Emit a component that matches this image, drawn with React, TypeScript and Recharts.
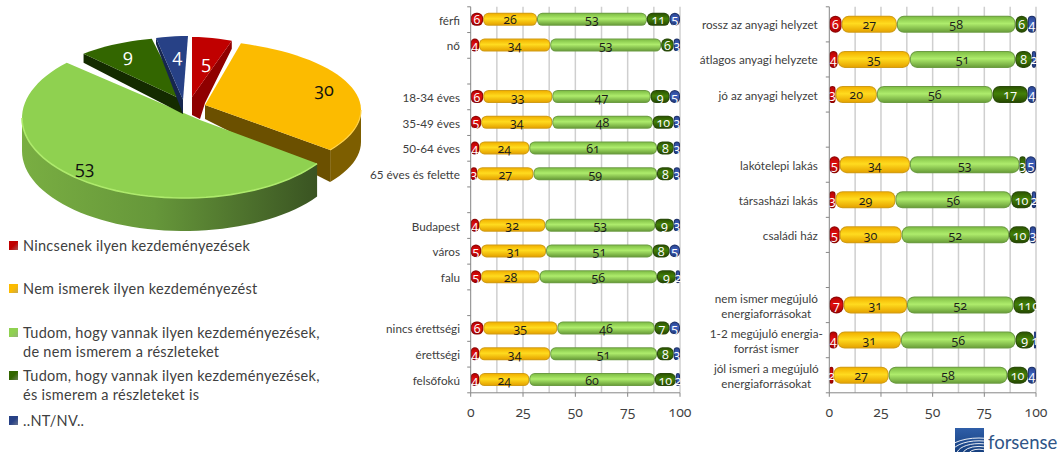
import React from "react";
import { PieChart, Pie, BarChart, Bar, XAxis, YAxis, CartesianGrid, LabelList, Legend } from "recharts";

const seriesNames = [
  "Nincsenek ilyen kezdeményezések",
  "Nem ismerek ilyen kezdeményezést",
  "Tudom, hogy vannak ilyen kezdeményezések, de nem ismerem a részleteket",
  "Tudom, hogy vannak ilyen kezdeményezések, és ismerem a részleteket is",
  "..NT/NV..",
];
const pieValues = [5, 30, 53, 9, 4];
const pieColors = ["#c00000", "#fcbb00", "#8fd150", "#336600", "#274186"];

const leftCategories = ["férfi", "nő", "", "18-34 éves", "35-49 éves", "50-64 éves", "65 éves és felette", "", "Budapest", "város", "falu", "", "nincs érettségi", "érettségi", "felsőfokú"];
const leftRed = [6, 4, null, 6, 5, 4, 3, null, 4, 5, 5, null, 6, 4, 4];
const leftYellow = [26, 34, null, 33, 34, 24, 27, null, 32, 31, 28, null, 35, 34, 24];
const leftLight = [53, 53, null, 47, 48, 61, 59, null, 53, 51, 56, null, 46, 51, 60];
const leftDark = [11, 6, null, 9, 10, 8, 8, null, 9, 8, 9, null, 7, 8, 10];
const leftBlue = [5, 3, null, 5, 3, 3, 3, null, 3, 5, 2, null, 5, 3, 2];

const rightCategories = ["rossz az anyagi helyzet", "átlagos anyagi helyzete", "jó az anyagi helyzet", "", "lakótelepi lakás", "társasházi lakás", "családi ház", "", "nem ismer megújuló|energiaforrásokat", "1-2 megújuló energia-|forrást ismer", "jól ismeri a megújuló|energiaforrásokat"];
const rightRed = [6, 4, 3, null, 5, 3, 5, null, 7, 4, 2];
const rightYellow = [27, 35, 20, null, 34, 29, 30, null, 31, 31, 27];
const rightLight = [58, 51, 56, null, 53, 56, 52, null, 52, 56, 58];
const rightDark = [6, 8, 17, null, 3, 10, 10, null, 11, 9, 10];
const rightBlue = [4, 2, 4, null, 5, 2, 3, null, 0, 1, 4];

const axisTicks = [0, 0.25, 0.5, 0.75, 1];
const gridTicks = [0.125, 0.25, 0.375, 0.5, 0.625, 0.75, 0.875, 1];

const TEXT_FONT = "Lato, 'Open Sans', sans-serif";
const DIGIT_FONT = "'Open Sans', Lato, sans-serif";
const TEXT_COLOR = "#404040";

const sliceGeom = [
  { ox: 192, oy: 117, rx: 130, ry: 80, ax: 192, ay: 97, edge: "end", cd: 8, ad: 18, tail: [[8, 22], [13, 6]], wall: "#8f0000", side: "#8f0000", t: 8, lf: 0.7, ldx: 0, ldy: 0, text: "#ffffff" },
  { ox: 188, oy: 110, rx: 173, ry: 70, ax: 205, ay: 105, edge: "end", cd: 32, ad: 14, tail: [], wall: "#6b5000", side: "#7d5e00", t: 32, lf: 0.83, ldx: 0, ldy: -2, text: "#111111" },
  { ox: 184, oy: 118, rx: 162, ry: 80, ax: 200, ay: 120, edge: "none", cd: 0, ad: 0, tail: [], wall: "#3b5423", side: "url(#greenWall)", t: 33, lf: 0.88, ldx: -9, ldy: -6, text: "#111111" },
  { ox: 187, oy: 91, rx: 143, ry: 54, ax: 183, ay: 100, edge: "start", cd: 9, ad: 14, tail: [], wall: "#142b00", side: "#142b00", t: 9, lf: 0.75, ldx: -5, ldy: -1, text: "#ffffff" },
  { ox: 188, oy: 100, rx: 130, ry: 64, ax: 183, ay: 100, edge: "start", cd: 6, ad: 14, tail: [], wall: "#16264f", side: "#16264f", t: 6, lf: 0.65, ldx: 0, ldy: -4, text: "#ffffff" },
];

function arcPoints(g: any, from: number, to: number, shift = 0) {
  const pts: [number, number][] = [];
  const n = Math.max(2, Math.ceil(Math.abs(to - from) / 3));
  for (let i = 0; i <= n; i++) {
    const th = ((from + ((to - from) * i) / n) * Math.PI) / 180;
    pts.push([g.ox + g.rx * Math.sin(th), g.oy - g.ry * Math.cos(th) + shift]);
  }
  return pts;
}
const toPath = (pts: [number, number][], close = true) =>
  pts.map((p, i) => `${i ? "L" : "M"}${p[0].toFixed(2)} ${p[1].toFixed(2)}`).join(" ") + (close ? " Z" : "");

function PieSlice(props: any) {
  const idx = seriesNames.indexOf(props.name);
  const g = sliceGeom[idx < 0 ? 0 : idx];
  const from = 90 - props.startAngle;
  const to = 90 - props.endAngle;
  const arc = arcPoints(g, from, to);
  const corner = g.edge === "start" ? arc[0] : arc[arc.length - 1];
  const wallFrom = Math.max(from, 90);
  const wallTo = Math.min(to, 270);
  const tail = (g.tail as number[][]).map((p) => [g.ax + p[0], g.ay + p[1]] as [number, number]);
  return (
    <g>
      {wallTo > wallFrom && (
        <path
          d={toPath([...arcPoints(g, wallFrom, wallTo), ...arcPoints(g, wallFrom, wallTo, g.t).reverse()])}
          fill={g.side}
        />
      )}
      {g.edge !== "none" && (
        <path
          d={toPath([corner, [g.ax, g.ay], [g.ax, g.ay + g.ad], ...tail, [corner[0], corner[1] + g.cd]])}
          fill={g.wall}
        />
      )}
      <path d={toPath([[g.ax, g.ay], ...arc])} fill={props.fill} />
      {wallTo > wallFrom && idx === 2 && (
        <path d={toPath(arcPoints(g, wallFrom, wallTo), false)} fill="none" stroke="#aeea6c" strokeWidth={1.6} />
      )}
      {wallTo > wallFrom && idx === 1 && (
        <path d={toPath(arcPoints(g, wallFrom, wallTo), false)} fill="none" stroke="#ffd24a" strokeWidth={1.2} />
      )}
    </g>
  );
}

function PieLabel(props: any) {
  const g = sliceGeom[props.index];
  const th = ((90 - props.midAngle) * Math.PI) / 180;
  const x = g.ox + g.rx * g.lf * Math.sin(th) + g.ldx;
  const y = g.oy - g.ry * g.lf * Math.cos(th) + g.ldy;
  return (
    <text x={x} y={y} textAnchor="middle" dominantBaseline="central" fill={g.text}
      style={{ fontFamily: DIGIT_FONT, fontSize: 18, fontFeatureSettings: '"onum"' }}>
      {props.value}
    </text>
  );
}

const legendTops = [236, 279, 323, 366, 411];

function PieLegend({ payload }: any) {
  return (
    <div style={{ position: "relative", width: 365, height: 220, fontFamily: TEXT_FONT, fontSize: 14.5, letterSpacing: 0.28, lineHeight: "19px", color: TEXT_COLOR }}>
      {(payload || []).map((e: any, i: number) => (
        <div key={i} style={{ position: "absolute", left: 23, top: legendTops[i] - 232, width: 305 }}>
          <span style={{ position: "absolute", left: -14, top: 5, width: 9, height: 9, background: `linear-gradient(135deg, ${e.color}, ${e.color} 50%, #00000066 140%)` }} />
          {e.value}
        </div>
      ))}
    </div>
  );
}

const pieData = seriesNames.map((name, i) => ({ name, value: pieValues[i], fill: pieColors[i] }));

const barStyles: Record<string, string[]> = {
  red: ["#8a0606", "#b80000", "#e01010", "#a80000"],
  yellow: ["#cf9c18", "#f2b200", "#ffdb1f", "#e6a400"],
  light: ["#6d9c44", "#80bf46", "#aeec6c", "#6ba03a"],
  dark: ["#2a4a0c", "#2c5500", "#438008", "#264a00"],
  blue: ["#1f3268", "#2a4592", "#4062bd", "#223a7c"],
};

function GradStops({ c }: { c: string[] }) {
  return (
    <>
      <stop offset="0%" stopColor={c[1]} />
      <stop offset="45%" stopColor={c[2]} />
      <stop offset="100%" stopColor={c[3]} />
    </>
  );
}

function BarGradients() {
  return (
    <defs>
      {Object.keys(barStyles).map((k) => (
        <linearGradient key={k} id={`bar-${k}`} x1="0" y1="0" x2="0" y2="1">
          <GradStops c={barStyles[k]} />
        </linearGradient>
      ))}
    </defs>
  );
}

function pill(kind: string) {
  return (p: any) => {
    const { x, y, width, height } = p;
    if (!(width > 0) || !(height > 0)) return <g />;
    const r = Math.min(height * 0.42, width / 2);
    const inset = Math.min(1, width / 4);
    return (
      <g>
        <rect x={x} y={y} width={width} height={height} rx={r} ry={r} fill={barStyles[kind][0]} />
        <rect x={x + inset} y={y + 1} width={width - inset * 2} height={height - 2} rx={Math.max(0, r - 1)} ry={Math.max(0, r - 1)} fill={`url(#bar-${kind})`} />
      </g>
    );
  };
}

function CategoryTick({ x, y, payload, index, band, labelGap, multiOffset, tickLen }: any) {
  const raw = String(payload.value ?? "");
  const lines = raw ? raw.split("|") : [];
  const multi = lines.length > 1;
  return (
    <g>
      {index === 0 && <line x1={x - tickLen} x2={x} y1={y - band / 2} y2={y - band / 2} stroke="#868686" />}
      <line x1={x - tickLen} x2={x} y1={y + band / 2} y2={y + band / 2} stroke="#868686" />
      {lines.map((l: string, i: number) => (
        <text key={i} x={multi ? x - multiOffset : x - labelGap} y={y + (i - (lines.length - 1) / 2) * 15} textAnchor={multi ? "middle" : "end"}
          dominantBaseline="central" fill={TEXT_COLOR} style={{ fontFamily: TEXT_FONT, fontSize: 11.7 }}>
          {l}
        </text>
      ))}
    </g>
  );
}

function makeRows(cats: string[], a: any[], b: any[], c: any[], d: any[], e: any[]) {
  return cats.map((name, i) => ({ name, red: a[i], yellow: b[i], light: c[i], dark: d[i], blue: e[i] }));
}

function valueLabel(color: string) {
  return (p: any) => {
    if (p.value === null || p.value === undefined) return <g />;
    return (
      <text x={p.x + p.width / 2} y={p.y + p.height / 2 + 0.5} textAnchor="middle" dominantBaseline="central" fill={color}
        style={{ fontFamily: DIGIT_FONT, fontSize: 12.5, fontFeatureSettings: '"onum"' }}>
        {p.value}
      </text>
    );
  };
}

const seriesKeys = [
  { key: "red", text: "#ffffff" },
  { key: "yellow", text: "#1a1a1a" },
  { key: "light", text: "#1a1a1a" },
  { key: "dark", text: "#ffffff" },
  { key: "blue", text: "#ffffff" },
];

function StackedChart({ rows, left, width, yWidth, right, barSize, multiOffset, labelGap }: any) {
  const plotH = 386;
  const band = plotH / rows.length;
  return (
    <div style={{ position: "absolute", left, top: 0 }}>
      <BarChart width={width} height={432} data={rows} layout="vertical" stackOffset="expand" barSize={barSize}
        margin={{ top: 6.8, right, bottom: 0, left: 0 }}>
        <BarGradients />
        <CartesianGrid horizontal={false} vertical stroke="#cfcfcf" strokeWidth={1.5} verticalValues={gridTicks} />
        <XAxis type="number" domain={[0, 1]} ticks={axisTicks} height={39.2} interval={0}
          tickFormatter={(v: number) => String(Math.round(v * 100))}
          axisLine={{ stroke: "#868686" }} tickLine={{ stroke: "#868686" }} tickSize={4} tickMargin={10}
          tick={{ fill: TEXT_COLOR, fontFamily: DIGIT_FONT, fontSize: 14, style: { fontFeatureSettings: '"onum"' } }} />
        <YAxis type="category" dataKey="name" width={yWidth} interval={0} axisLine={{ stroke: "#868686" }} tickLine={false} tickSize={0} tickMargin={0}
          tick={(p: any) => <CategoryTick {...p} band={band} labelGap={labelGap} tickLen={3.5} multiOffset={multiOffset} />} />
        {seriesKeys.map((s) => (
          <Bar key={s.key} dataKey={s.key} stackId="all" isAnimationActive={false} shape={pill(s.key)}>
            <LabelList dataKey={s.key} content={valueLabel(s.text)} />
          </Bar>
        ))}
      </BarChart>
    </div>
  );
}

function Logo() {
  return (
    <div style={{ position: "absolute", left: 955, top: 428, width: 108, height: 24 }}>
      <svg width={29} height={24} style={{ position: "absolute", left: 0, top: 0 }}>
        <defs>
          <linearGradient id="logoGrad" x1="0" y1="0" x2="0" y2="1">
            <stop offset="0%" stopColor="#2f5ea8" />
            <stop offset="100%" stopColor="#16407f" />
          </linearGradient>
        </defs>
        <rect width={29} height={24} fill="url(#logoGrad)" />
        {[6, 9.5, 13, 16.5, 20].map((r, i) => (
          <ellipse key={i} cx={24} cy={26} rx={r * 1.7} ry={r * 0.8} fill="none" stroke="#ffffff" strokeWidth={1} opacity={0.9} />
        ))}
      </svg>
      <span style={{ position: "absolute", left: 33, top: 0, fontFamily: "Lato, sans-serif", fontSize: 18.5, lineHeight: "28px", color: "#2f5587" }}>forsense</span>
    </div>
  );
}

export default function App() {
  return (
    <div style={{ position: "absolute", left: 0, top: 0, width: 1063, height: 452, overflow: "hidden", background: "#ffffff" }}>
      <div style={{ position: "absolute", left: 0, top: 0 }}>
        <PieChart width={365} height={452} margin={{ top: 0, right: 0, bottom: 0, left: 0 }}>
          <defs>
            <linearGradient id="greenWall" gradientUnits="userSpaceOnUse" x1="22" y1="0" x2="316" y2="0">
              <stop offset="0%" stopColor="#79ae42" />
              <stop offset="45%" stopColor="#66973a" />
              <stop offset="100%" stopColor="#3a5422" />
            </linearGradient>
          </defs>
          <Pie data={pieData} dataKey="value" nameKey="name" cx={190} cy={120} outerRadius={100} startAngle={90} endAngle={-270}
            stroke="none" isAnimationActive={false} shape={PieSlice} label={PieLabel} labelLine={false} />
          <Legend content={PieLegend} itemSorter={null} wrapperStyle={{ position: "absolute", left: 0, top: 232, width: 365, height: 220, bottom: "auto" }} />
        </PieChart>
      </div>
      <StackedChart rows={makeRows(leftCategories, leftRed, leftYellow, leftLight, leftDark, leftBlue)} left={365} width={335} yWidth={105.7} right={20} barSize={13} multiOffset={55} labelGap={10.7} />
      <StackedChart rows={makeRows(rightCategories, rightRed, rightYellow, rightLight, rightDark, rightBlue)} left={690} width={373} yWidth={139.3} right={27} barSize={17} multiOffset={63} labelGap={11.5} />
      <Logo />
    </div>
  );
}
